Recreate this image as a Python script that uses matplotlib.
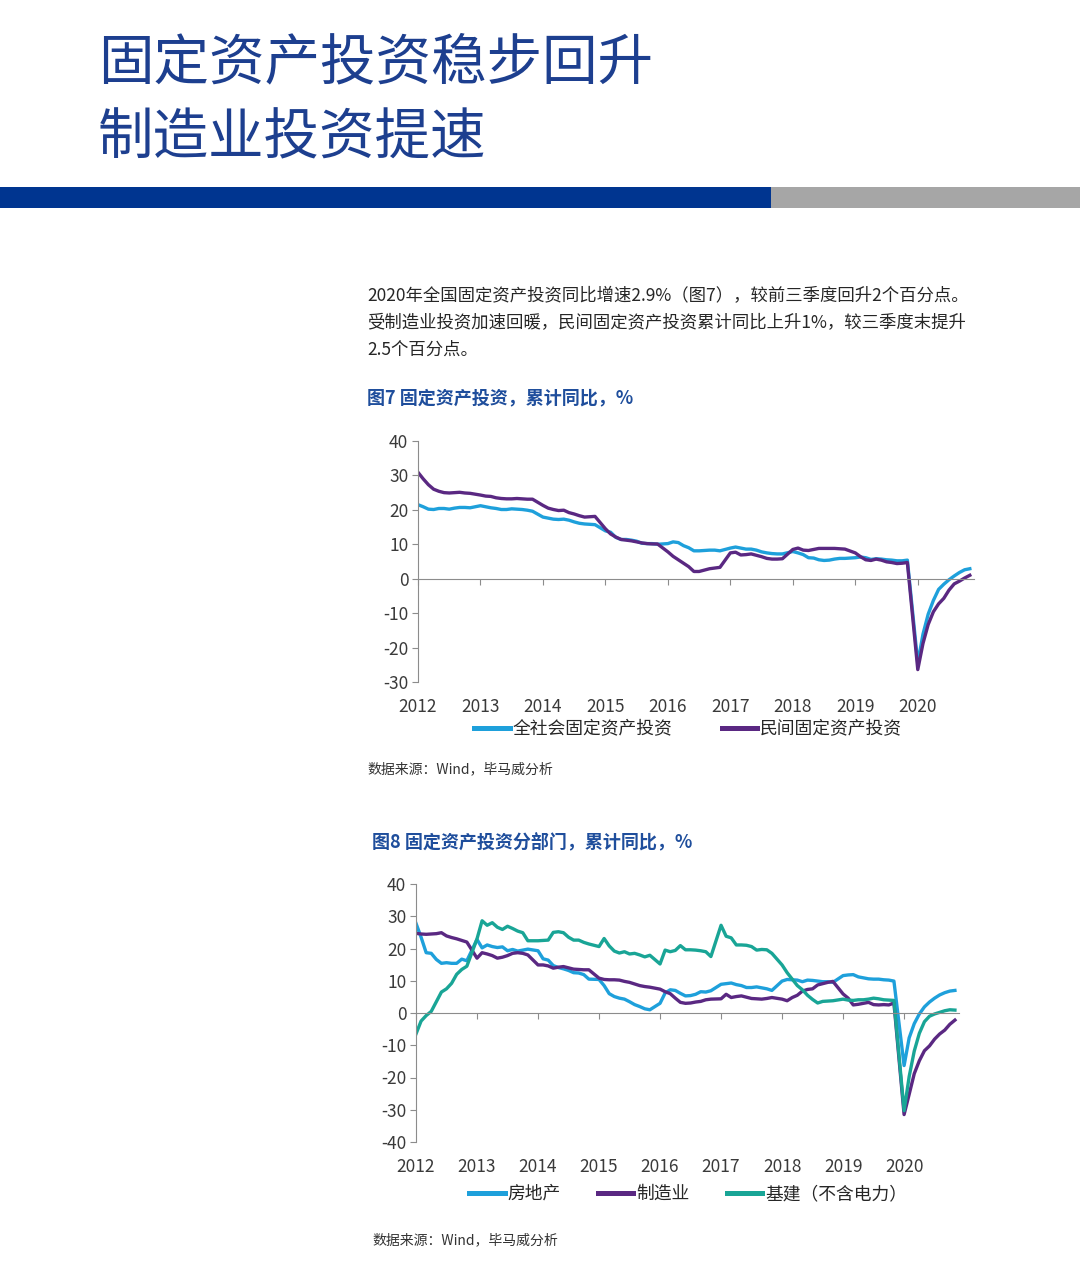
import matplotlib
matplotlib.use('Agg')
import matplotlib.pyplot as plt
from matplotlib.patches import Rectangle

plt.rcParams['font.family'] = ['Noto Sans CJK SC', 'DejaVu Sans']
plt.rcParams['axes.unicode_minus'] = False

W, H = 1080, 1278

# cumulative y/y data, Jan is merged into Feb so each year runs Feb..Dec
years = list(range(2012, 2021))
months = list(range(2, 13))

# 图7
fai_total = [
    21.5, 20.9, 20.2, 20.1, 20.4, 20.4, 20.2, 20.5, 20.7, 20.7, 20.6,
    21.2, 20.9, 20.6, 20.4, 20.1, 20.1, 20.3, 20.2, 20.1, 19.9, 19.6,
    17.9, 17.6, 17.3, 17.2, 17.3, 17.0, 16.5, 16.1, 15.9, 15.8, 15.7,
    13.9, 13.5, 12.0, 11.4, 11.4, 11.2, 10.9, 10.3, 10.2, 10.2, 10.0,
    10.2, 10.7, 10.5, 9.6, 9.0, 8.1, 8.1, 8.2, 8.3, 8.3, 8.1,
    8.9, 9.2, 8.9, 8.6, 8.6, 8.3, 7.8, 7.5, 7.3, 7.2, 7.2,
    7.9, 7.5, 7.0, 6.1, 6.0, 5.5, 5.3, 5.4, 5.7, 5.9, 5.9,
    6.1, 6.3, 6.1, 5.6, 5.8, 5.7, 5.5, 5.4, 5.2, 5.2, 5.4,
    -24.5, -16.1, -10.3, -6.3, -3.1, -1.6, -0.3, 0.8, 1.8, 2.6, 2.9,
]
fai_private = [
    30.9, 29.0, 27.3, 26.0, 25.4, 25.0, 24.9, 25.0, 25.1, 24.9, 24.8,
    24.3, 24.0, 23.9, 23.5, 23.3, 23.2, 23.2, 23.3, 23.2, 23.1, 23.1,
    21.3, 20.5, 20.1, 19.8, 19.9, 19.2, 18.8, 18.3, 17.9, 18.0, 18.1,
    14.5, 13.0, 12.1, 11.4, 11.2, 11.0, 10.7, 10.4, 10.2, 10.1, 10.1,
    7.8, 6.5, 5.5, 4.5, 3.5, 2.1, 2.1, 2.5, 2.9, 3.1, 3.3,
    7.5, 7.7, 6.9, 7.0, 7.2, 6.8, 6.4, 5.9, 5.7, 5.7, 5.8,
    8.5, 8.9, 8.3, 8.2, 8.5, 8.8, 8.8, 8.8, 8.8, 8.7, 8.6,
    7.5, 6.4, 5.5, 5.3, 5.7, 5.4, 4.9, 4.7, 4.4, 4.5, 4.7,
    -26.4, -18.8, -13.3, -9.6, -7.3, -5.7, -3.3, -1.5, -0.7, 0.2, 1.0,
]

# 图8
real_estate = [
    27.8, 23.5, 18.7, 18.5, 16.6, 15.4, 15.6, 15.4, 15.4, 16.7, 16.2,
    22.8, 20.2, 21.1, 20.6, 20.3, 20.5, 19.3, 19.7, 19.2, 19.5, 19.8,
    19.3, 16.8, 16.4, 14.7, 14.1, 13.7, 13.2, 12.5, 12.4, 11.9, 10.5,
    10.4, 8.5, 6.0, 5.1, 4.6, 4.3, 3.5, 2.6, 2.0, 1.3, 1.0,
    3.0, 6.2, 7.2, 7.0, 6.1, 5.3, 5.4, 5.8, 6.6, 6.5, 6.9,
    8.9, 9.1, 9.3, 8.8, 8.5, 7.9, 7.9, 8.1, 7.8, 7.5, 7.0,
    9.9, 10.4, 10.3, 10.2, 9.7, 10.2, 10.1, 9.9, 9.7, 9.7, 9.5,
    11.6, 11.8, 11.9, 11.2, 10.9, 10.6, 10.5, 10.5, 10.3, 10.2, 9.9,
    -16.3, -7.7, -3.3, -0.3, 1.9, 3.4, 4.6, 5.6, 6.3, 6.8, 7.0,
]
manufacturing = [
    24.7, 24.5, 24.4, 24.5, 24.6, 24.9, 23.9, 23.4, 23.0, 22.5, 22.0,
    17.0, 18.7, 18.3, 17.8, 17.0, 17.3, 17.8, 18.5, 18.7, 18.5, 18.0,
    14.9, 14.9, 14.6, 13.9, 14.2, 14.4, 14.0, 13.6, 13.5, 13.4, 13.4,
    10.8, 10.4, 10.3, 10.3, 10.2, 9.8, 9.5, 9.0, 8.5, 8.2, 8.0,
    7.4, 6.6, 6.0, 4.6, 3.3, 3.0, 3.1, 3.4, 3.6, 4.1, 4.3,
    4.4, 5.8, 4.8, 5.1, 5.3, 4.9, 4.5, 4.4, 4.3, 4.5, 4.8,
    4.3, 3.8, 4.8, 5.5, 6.8, 7.3, 7.5, 8.7, 9.1, 9.5, 9.8,
    5.9, 4.6, 2.5, 2.7, 3.0, 3.3, 2.6, 2.5, 2.6, 2.5, 3.1,
    -31.5, -25.2, -18.8, -14.8, -11.7, -10.2, -8.1, -6.5, -5.3, -3.5, -2.2,
]
infrastructure = [
    -6.5, -2.5, -0.8, 0.5, 3.5, 6.5, 7.5, 9.2, 12.0, 13.5, 14.5,
    23.0, 28.6, 27.2, 28.0, 26.6, 25.9, 26.9, 26.2, 25.4, 24.9, 22.4,
    22.4, 22.5, 22.6, 25.0, 25.2, 24.9, 23.5, 22.6, 22.6, 21.9, 21.4,
    20.6, 23.1, 20.8, 19.2, 18.6, 19.0, 18.3, 18.5, 18.0, 17.4, 17.9,
    15.2, 19.5, 19.0, 19.4, 20.9, 19.6, 19.6, 19.5, 19.3, 19.0, 17.5,
    27.2, 23.8, 23.3, 21.1, 21.1, 21.0, 20.6, 19.5, 19.7, 19.6, 18.5,
    14.9, 12.5, 10.5, 8.5, 7.2, 5.5, 4.2, 3.1, 3.6, 3.7, 3.8,
    4.3, 4.0, 3.9, 4.1, 4.1, 4.3, 4.6, 4.4, 4.1, 4.0, 3.9,
    -30.3, -19.7, -11.8, -6.3, -2.7, -1.0, -0.3, 0.2, 0.7, 1.0, 0.9,
]

dates = [y + (m - 2) / 12 for y in years for m in months]

BLUE = '#1ea0db'
PURPLE = '#5a2882'
TEAL = '#19a596'
AXIS = '#8c8c8c'
TICKTXT = '#3a3a3a'


def fx(px):
    return px / W


def fy(py):
    return 1 - py / H


fig = plt.figure(figsize=(W / 100, H / 100), dpi=100)
fig.patch.set_facecolor('white')

# header
fig.text(fx(98), fy(64), '固定资产投资稳步回升', fontsize=40, color='#1d3f8f',
         va='center', ha='left', fontweight='light')
fig.text(fx(98), fy(139), '制造业投资提速', fontsize=40, color='#1d3f8f',
         va='center', ha='left', fontweight='light')
fig.add_artist(Rectangle((0, fy(208)), fx(771), 21 / H, transform=fig.transFigure,
                         color='#003590', lw=0))
fig.add_artist(Rectangle((fx(771), fy(208)), 1 - fx(771), 21 / H, transform=fig.transFigure,
                         color='#a6a6a6', lw=0))

para = ['2020年全国固定资产投资同比增速2.9%（图7），较前三季度回升2个百分点。',
        '受制造业投资加速回暖，民间固定资产投资累计同比上升1%，较三季度末提升',
        '2.5个百分点。']
for i, line in enumerate(para):
    fig.text(fx(367), fy(296 + 27 * i), line, fontsize=12.5, color='#262626', va='center')


def draw_chart(rect, ylim, yticks, series, labels, colors, leg_xy, colsp):
    ax = fig.add_axes(rect)
    for vals, lab, c in zip(series, labels, colors):
        ax.plot(dates, vals, color=c, lw=2.4, label=lab, solid_joinstyle='round')
    ax.set_xlim(2012, 2020.9)
    ax.set_ylim(*ylim)
    ax.set_yticks(yticks)
    ax.spines[['top', 'right']].set_visible(False)
    ax.spines['left'].set_color(AXIS)
    ax.spines['bottom'].set_position(('data', 0))
    ax.spines['bottom'].set_color(AXIS)
    ax.set_xticks(years)
    ax.tick_params(axis='x', length=4, color=AXIS, labelbottom=False)
    ax.tick_params(axis='y', length=4, color=AXIS, labelsize=12.5,
                   labelcolor=TICKTXT, pad=3)
    sec = ax.secondary_xaxis('bottom')
    sec.set_xticks(years, [str(y) for y in years])
    sec.tick_params(length=0, labelsize=12.5, labelcolor=TICKTXT, pad=11.5)
    sec.spines['bottom'].set_visible(False)
    leg = ax.legend(loc='center', bbox_to_anchor=leg_xy, bbox_transform=fig.transFigure,
                    ncol=len(series), frameon=False, fontsize=12.8, handlelength=2.0,
                    handletextpad=0.15, columnspacing=colsp, labelcolor='#262626')
    for l in leg.get_lines():
        l.set_linewidth(3.6)
    return ax


# 图7
fig.text(fx(367), fy(398), '图7 固定资产投资，累计同比，%', fontsize=13, fontweight='bold',
         color='#1f4e9c', va='center')
draw_chart([fx(418), fy(682), 556 / W, 241 / H], (-30, 40), range(-30, 41, 10),
           [fai_total, fai_private], ['全社会固定资产投资', '民间固定资产投资'],
           [BLUE, PURPLE], (fx(688), fy(729)), 2.8)
fig.text(fx(367), fy(769), '数据来源：Wind，毕马威分析', fontsize=10, color='#333333', va='center')

# 图8
fig.text(fx(372), fy(842), '图8 固定资产投资分部门，累计同比，%', fontsize=13, fontweight='bold',
         color='#1f4e9c', va='center')
draw_chart([fx(416), fy(1142), 543 / W, 258 / H], (-40, 40), range(-40, 41, 10),
           [real_estate, manufacturing, infrastructure], ['房地产', '制造业', '基建（不含电力）'],
           [BLUE, PURPLE, TEAL], (fx(688), fy(1194)), 2.1)
fig.text(fx(372), fy(1240), '数据来源：Wind，毕马威分析', fontsize=10, color='#333333', va='center')

fig.savefig('out.png', dpi=100, facecolor='white')
